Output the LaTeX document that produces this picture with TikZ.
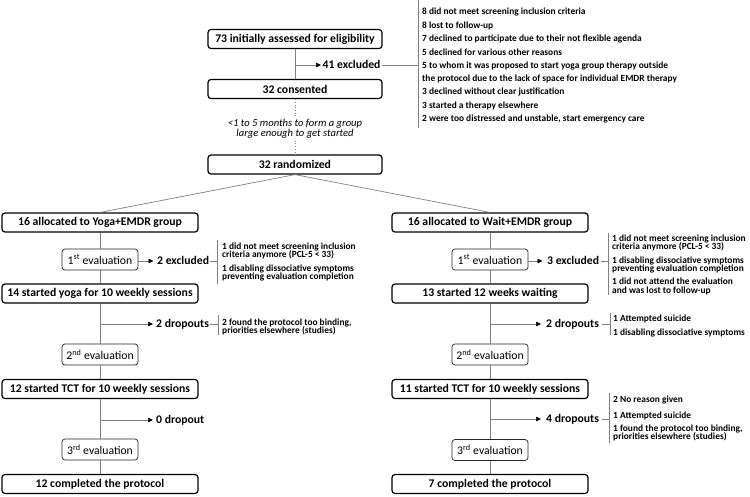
\documentclass[tikz,border=0pt]{standalone}
\usepackage{fontspec}
\setmainfont{Carlito}
\usetikzlibrary{arrows.meta}
\definecolor{linegray}{RGB}{128,128,128}
\newcommand\fbig{\fontsize{11.7}{13}\selectfont}
\newcommand\flist{\fontsize{9.4}{8.3}\selectfont\lineskiplimit=-20pt\lineskip=0pt\relax}
\newcommand\ftop{\fontsize{9.4}{12.3}\selectfont\lineskiplimit=-20pt\lineskip=0pt\relax}
\newcommand\fnote{\fontsize{10.6}{10}\selectfont\lineskiplimit=-20pt\lineskip=0pt\relax}
\tikzset{
  mainbox/.style={draw=black, line width=1.2pt, rounded corners=3pt, fill=white,
    inner sep=0pt, minimum height=19pt, font=\fbig\bfseries},
  evalbox/.style={draw=black!85, line width=0.7pt, rounded corners=3pt, fill=white,
    inner sep=0pt, minimum width=76pt, minimum height=21pt, font=\fbig},
  conn/.style={draw=linegray, line width=0.7pt},
  dotconn/.style={draw=linegray, line width=0.7pt, dotted},
  arr/.style={conn, -{Triangle[length=5pt,width=4.5pt,color=black]}},
  lbl/.style={inner sep=0pt, font=\fbig\bfseries, text height=0.62em, text depth=0pt, anchor=west},
  list/.style={inner sep=0pt, font=\flist\bfseries, align=left, anchor=north west},
  note/.style={inner sep=0pt, font=\fnote\itshape, align=center},
}
\begin{document}
\begin{tikzpicture}[x=1pt,y=-1pt]
\useasboundingbox (0,0) rectangle (750,496);

% ---------- centre column ----------
\node[mainbox, minimum width=174pt] (n73) at (295,39) {73 initially assessed for eligibility};
\node[mainbox, minimum width=174pt] (n32c) at (295,89) {32 consented};
\node[note] (note) at (295,129) {<1 to 5 months to form a group\\large enough to get started};
\node[mainbox, minimum width=174pt] (nrand) at (295,164.5) {32 randomized};

\draw[conn] (n73) -- (n32c);
\draw[dotconn, shorten >=2pt] (n32c) -- (note);
\draw[dotconn, shorten <=2pt] (note) -- (nrand);

\node[lbl] (ex41) at (322.5,65) {41 excluded};
\draw[arr, shorten >=1.5pt] (n73.south |- ex41.west) -- (ex41.west);
\coordinate (b41t) at (418,0);
\coordinate (b41b) at (418,128);
\draw[conn] (b41t) -- (b41b);
\draw[conn, shorten <=1pt] (ex41.east) -- (ex41.east -| b41t);
\node[list, font=\ftop\bfseries] (l41) at (422,7.6) {8 did not meet screening inclusion criteria\\[1.3pt]
8 lost to follow-up\\[1.3pt]
7 declined to participate due to their not flexible agenda\\[1.3pt]
5 declined for various other reasons\\[1.3pt]
5 to whom it was proposed to start yoga group therapy outside\\
the protocol due to the lack of space for individual EMDR therapy\\[1.3pt]
3 declined without clear justification\\[1.3pt]
3 started a therapy elsewhere\\[1.3pt]
2 were too distressed and unstable, start emergency care};

% ---------- left column ----------
\node[mainbox, minimum width=196pt] (yA) at (100,222.5) {16 allocated to Yoga+EMDR group};
\node[evalbox] (yE1) at (100,259.5) {1\textsuperscript{st} evaluation};
\node[mainbox, minimum width=196pt] (yS) at (100,293.5) {14 started yoga for 10 weekly sessions};
\node[evalbox] (yE2) at (100,354.5) {2\textsuperscript{nd} evaluation};
\node[mainbox, minimum width=196pt] (yT) at (100,389) {12 started TCT for 10 weekly sessions};
\node[evalbox] (yE3) at (100,449.5) {3\textsuperscript{rd} evaluation};
\node[mainbox, minimum width=196pt] (yC) at (100,484) {12 completed the protocol};

\draw[conn] (nrand.south) -- (yA.north);
\draw[conn] (yA) -- (yE1);
\draw[conn] (yE1) -- (yS);
\draw[conn] (yS) -- (yE2);
\draw[conn] (yE2) -- (yT);
\draw[conn] (yT) -- (yE3);
\draw[conn] (yE3) -- (yC);

\node[lbl] (yX1) at (157,261) {2 excluded};
\draw[arr, shorten >=3.5pt] (yE1.east |- yX1.west) -- (yX1.west);
\coordinate (yB1t) at (217,240);
\coordinate (yB1b) at (217,284);
\draw[conn] (yB1t) -- (yB1b);
\draw[conn, shorten <=1pt] (yX1.east) -- (yX1.east -| yB1t);
\node[list] (yL1) at (222,242.6) {1 did not meet screening inclusion\\
criteria anymore (PCL-5 < 33)\\[5pt]
1 disabling dissociative symptoms\\
preventing evaluation completion};

\node[lbl] (yD1) at (156,324) {2 dropouts};
\draw[arr, shorten >=3pt] (yS.south |- yD1.west) -- (yD1.west);
\coordinate (yB2t) at (218,315);
\coordinate (yB2b) at (218,335);
\draw[conn] (yB2t) -- (yB2b);
\draw[conn, shorten <=1pt] (yD1.east) -- (yD1.east -| yB2t);
\node[list] (yL2) at (222,318.8) {2 found the protocol too binding,\\
priorities elsewhere (studies)};

\node[lbl] (yD2) at (156,420) {0 dropout};
\draw[arr, shorten >=3pt] (yT.south |- yD2.west) -- (yD2.west);

% ---------- right column ----------
\node[mainbox, minimum width=196pt] (wA) at (490,222.5) {16 allocated to Wait+EMDR group};
\node[evalbox] (wE1) at (490,259.5) {1\textsuperscript{st} evaluation};
\node[mainbox, minimum width=196pt] (wS) at (490,293.5) {13 started 12 weeks waiting};
\node[evalbox] (wE2) at (490,354.5) {2\textsuperscript{nd} evaluation};
\node[mainbox, minimum width=196pt] (wT) at (490,389) {11 started TCT for 10 weekly sessions};
\node[evalbox] (wE3) at (490,450) {3\textsuperscript{rd} evaluation};
\node[mainbox, minimum width=196pt] (wC) at (490,484) {7 completed the protocol};

\draw[conn] (nrand.south) -- (wA.north);
\draw[conn] (wA) -- (wE1);
\draw[conn] (wE1) -- (wS);
\draw[conn] (wS) -- (wE2);
\draw[conn] (wE2) -- (wT);
\draw[conn] (wT) -- (wE3);
\draw[conn] (wE3) -- (wC);

\node[lbl] (wX1) at (547,261) {3 excluded};
\draw[arr, shorten >=4.5pt] (wE1.east |- wX1.west) -- (wX1.west);
\coordinate (wB1t) at (608,233);
\coordinate (wB1b) at (608,295);
\draw[conn] (wB1t) -- (wB1b);
\draw[conn, shorten <=2pt] (wX1.east) -- (wX1.east -| wB1t);
\node[list] (wL1) at (612,234.8) {1 did not meet screening inclusion\\
criteria anymore (PCL-5 < 33)\\[5pt]
1 disabling dissociative symptoms\\
preventing evaluation completion\\[5pt]
1 did not attend the evaluation\\
and was lost to follow-up};

\node[lbl] (wD1) at (546,324) {2 dropouts};
\draw[arr, shorten >=5pt] (wS.south |- wD1.west) -- (wD1.west);
\coordinate (wB2t) at (610,313);
\coordinate (wB2b) at (610,335);
\draw[conn] (wB2t) -- (wB2b);
\draw[conn, shorten <=3pt] (wD1.east) -- (wD1.east -| wB2t);
\node[list] (wL2) at (613,315) {1 Attempted suicide\\[5pt]
1 disabling dissociative symptoms};

\node[lbl] (wD2) at (546,419) {4 dropouts};
\draw[arr, shorten >=5pt] (wT.south |- wD2.west) -- (wD2.west);
\coordinate (wB3t) at (609,393);
\coordinate (wB3b) at (609,443);
\draw[conn] (wB3t) -- (wB3b);
\draw[conn, shorten <=3pt] (wD2.east) -- (wD2.east -| wB3t);
\node[list] (wL3) at (613,395.2) {2 No reason given\\[8pt]
1 Attempted suicide\\[5pt]
1 found the protocol too binding,\\
priorities elsewhere (studies)};
\end{tikzpicture}
\end{document}
